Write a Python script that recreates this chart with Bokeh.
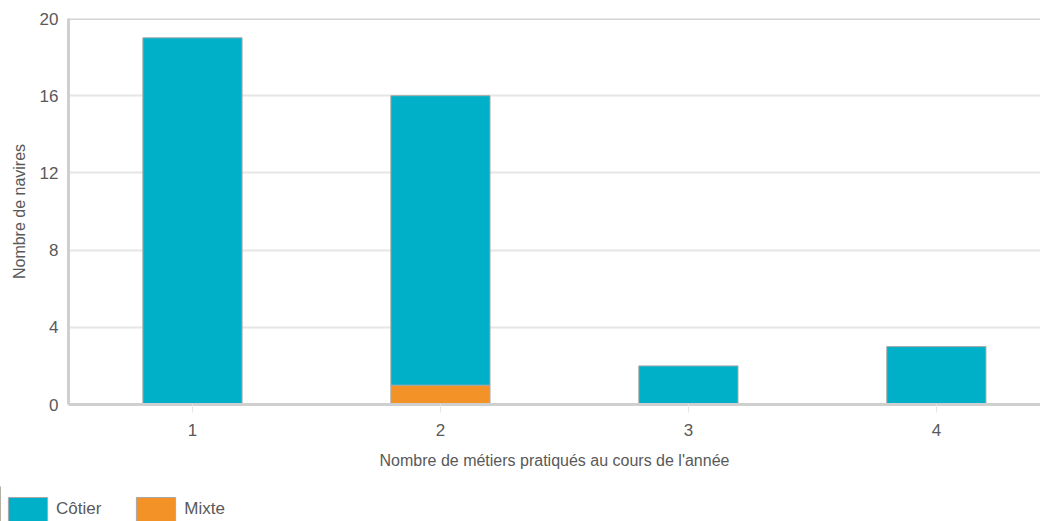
from bokeh.plotting import figure
from bokeh.layouts import column, row
from bokeh.models import (FixedTicker, Legend, LegendItem, Span, Range1d,
                          ColumnDataSource, Plot, VBar)
from bokeh.embed import file_html
from bokeh.resources import INLINE

categories = ["1", "2", "3", "4"]
cotier = [19, 15, 2, 3]
mixte = [0, 1, 0, 0]
y_ticks = [0, 4, 8, 12, 16, 20]

FONT = "Liberation Sans"
TXT = "#595959"
C_COTIER = "#00B0C8"
C_MIXTE = "#F39327"
EDGE = "#a8a8a8"

xs = [int(c) for c in categories]
src = ColumnDataSource(dict(x=xs, cotier=cotier, mixte=mixte))

p = figure(width=1040, height=486, output_backend="svg", toolbar_location=None,
           x_range=Range1d(0.5, 4.42), y_range=Range1d(0, 20),
           min_border_left=68, min_border_right=0, min_border_top=18, min_border_bottom=82)
p.outline_line_color = None
p.background_fill_color = "white"
p.border_fill_color = "white"

rs = p.vbar_stack(["mixte", "cotier"], x="x", width=0.4, source=src,
                  fill_color=[C_MIXTE, C_COTIER], line_color=EDGE, line_width=1)

p.add_layout(Span(location=20, dimension="width", line_color="#d4d4d4", line_width=3))

p.xgrid.grid_line_color = None
p.ygrid.grid_line_color = "#e6e6e6"
p.ygrid.grid_line_width = 2

p.yaxis.ticker = FixedTicker(ticks=y_ticks)
p.yaxis.major_tick_line_color = None
p.yaxis.minor_tick_line_color = None
p.yaxis.axis_line_color = "#cfcfcf"
p.yaxis.axis_line_width = 3
p.yaxis.major_label_standoff = 4
p.yaxis.axis_label = "Nombre de navires"
p.yaxis.axis_label_standoff = 9

p.xaxis.ticker = FixedTicker(ticks=xs)
p.xaxis.major_label_overrides = {x: c for x, c in zip(xs, categories)}
p.xaxis.major_tick_out = 8
p.xaxis.major_tick_in = 0
p.xaxis.major_tick_line_color = "#e6e6e6"
p.xaxis.minor_tick_line_color = None
p.xaxis.axis_line_color = "#cfcfcf"
p.xaxis.axis_line_width = 3
p.xaxis.major_label_standoff = 11
p.xaxis.axis_label = "Nombre de métiers pratiqués au cours de l'année"
p.xaxis.axis_label_standoff = 13

for ax in (p.xaxis, p.yaxis):
    ax.major_label_text_font = FONT
    ax.major_label_text_font_size = "17px"
    ax.major_label_text_color = TXT
    ax.axis_label_text_font = FONT
    ax.axis_label_text_font_size = "16px"
    ax.axis_label_text_font_style = "normal"
    ax.axis_label_text_color = TXT

# legend strip below the chart: a bare Plot (no axes), dummy renderers outside the view
q = Plot(width=1040, height=35, output_backend="svg", toolbar_location=None,
         x_range=Range1d(0, 1), y_range=Range1d(0, 1), min_border=0,
         outline_line_color=None)
lsrc = ColumnDataSource(dict(x=[-5], top=[1]))
lc = q.add_glyph(lsrc, VBar(x="x", top="top", width=0.1, fill_color=C_COTIER, line_color=EDGE))
lm = q.add_glyph(lsrc, VBar(x="x", top="top", width=0.1, fill_color=C_MIXTE, line_color=EDGE))

legend = Legend(items=[LegendItem(label="Côtier", renderers=[lc]),
                       LegendItem(label="Mixte", renderers=[lm])],
                orientation="horizontal", location=(3, -3))
legend.glyph_width = 49
legend.glyph_height = 30
legend.label_height = 30
legend.label_standoff = 4
legend.spacing = 30
legend.padding = 0
legend.margin = 0
legend.border_line_color = None
legend.background_fill_alpha = 0
legend.label_text_font = FONT
legend.label_text_font_size = "17px"
legend.label_text_color = TXT
q.add_layout(legend, "center")

layout = column(p, row(q, spacing=0), spacing=0)
open("out.html", "w").write(file_html(layout, INLINE))
